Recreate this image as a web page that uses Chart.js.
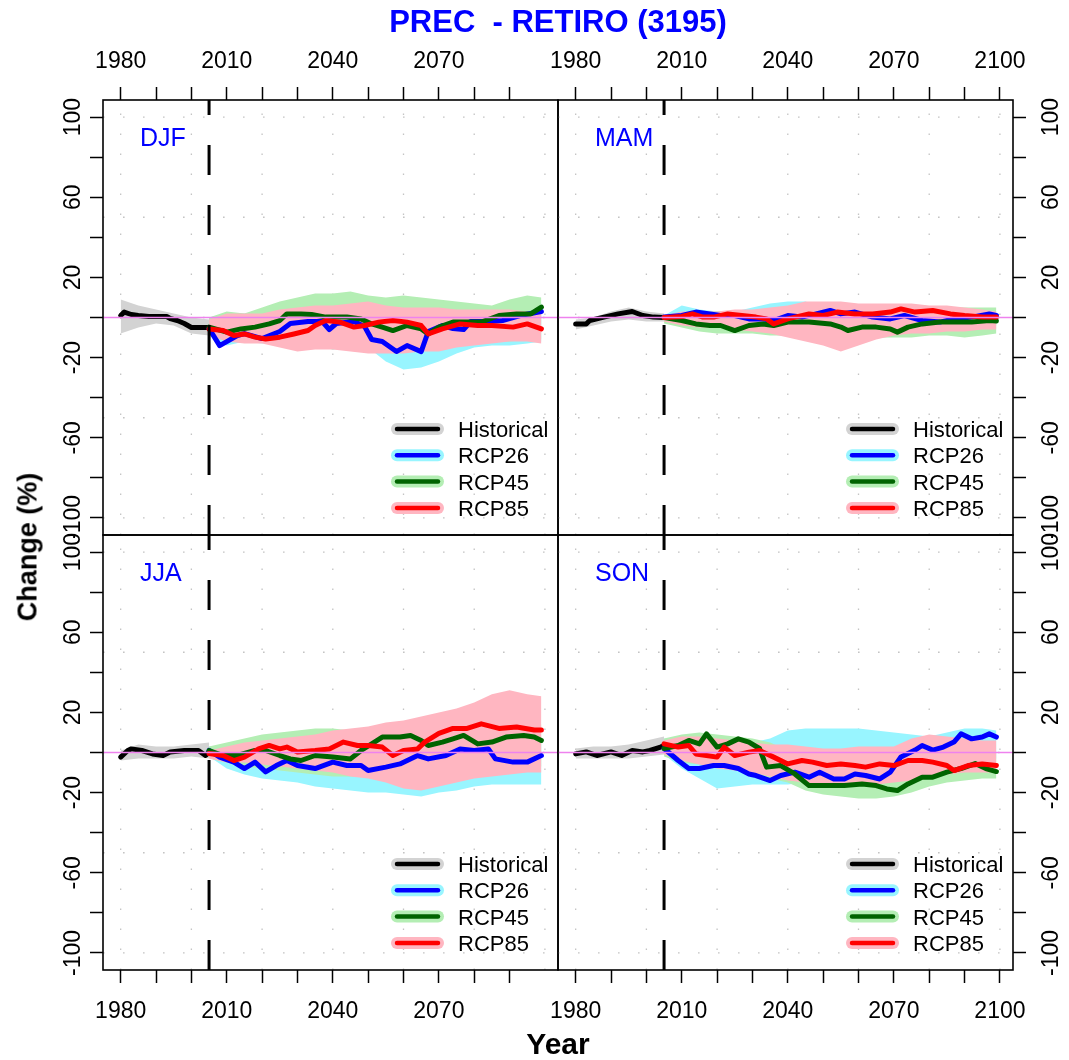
<!DOCTYPE html>
<html>
<head>
<meta charset="utf-8">
<script src="https://cdn.jsdelivr.net/npm/chart.js@4.4.1/dist/chart.umd.min.js"></script>
<style>
html,body{margin:0;padding:0;background:#fff;}
#wrap{position:relative;width:1069px;height:1060px;overflow:hidden;background:#fff;font-family:"Liberation Sans",Arial,Helvetica,sans-serif;}
#wrap canvas{position:absolute;}
.txt{position:absolute;white-space:pre;line-height:1;}
</style>
</head>
<body>
<div id="wrap">
  <canvas id="cTL" width="561" height="538" style="left:0px;top:0px;"></canvas>
  <canvas id="cTR" width="544" height="538" style="left:525px;top:0px;"></canvas>
  <canvas id="cBL" width="561" height="528" style="left:0px;top:532px;"></canvas>
  <canvas id="cBR" width="544" height="528" style="left:525px;top:532px;"></canvas>
  <div class="txt" style="left:258px;width:600px;text-align:center;top:5.5px;font-size:31px;font-weight:bold;color:#0000FF;">PREC  - RETIRO (3195)</div>
  <div class="txt" style="left:458px;width:200px;text-align:center;top:1029px;font-size:30px;font-weight:bold;color:#000;">Year</div>
  <div class="txt" style="left:28px;top:547px;font-size:27px;font-weight:bold;color:#000;transform:translate(-50%,-50%) rotate(-90deg);">Change (%)</div>
</div>
<script>
// ---------------- axis / tick values ----------------
const X_MIN = 1975.0, X_MAX = 2103.7;
const Y_MIN = -108.5, Y_MAX = 108.5;
const xTicksLeft  = [1980,1990,2000,2010,2020,2030,2040,2050,2060,2070,2080,2090];
const xTicksRight = [1980,1990,2000,2010,2020,2030,2040,2050,2060,2070,2080,2090,2100];
const xLabelYears = [1980,2010,2040,2070,2100];
const yTicks      = [-100,-80,-60,-40,-20,0,20,40,60,80,100];
const yLabelVals  = [100,60,20,-20,-60,-100];
const gridYears   = [1980,2000,2020,2040,2060,2080,2100];
const gridVals    = [-100,-50,0,50,100];
const refYear     = 2005;
const zeroValue   = 0;

// ---------------- legend ----------------
const legendLabels = ['Historical','RCP26','RCP45','RCP85'];
const lineColors   = ['#000000','#0000FF','#006400','#FF0000'];
const bandColors   = ['#D3D3D3','#98F5FF','#B4EEB4','#FFB6C1'];

// ---------------- band year grids ----------------
const histBandYears = [1980,1985,1990,1995,2000,2005];
const bandYears = [2005,2010,2015,2020,2025,2030,2035,2040,2045,2050,2055,2060,2065,2070,2075,2080,2085,2090,2095,2099];

// ================= DJF =================
const djfHistYears = [1980,1981,1983,1985,1988,1991,1993,1994,1996,1998,2000,2002,2005];
const djfHist      = [1,2.7,1.5,1,0.5,0.5,0.5,-0.5,-1.5,-3,-5,-5,-5];
const djfHistLo    = [-8,-5,-3,-4,-8,-9];
const djfHistHi    = [9,6,4,2,0,-1];
const djfR26Years  = [2005,2008,2010,2013,2015,2020,2025,2028,2033,2037,2039,2041,2046,2049,2051,2054,2058,2061,2065,2067,2071,2074,2077,2079,2084,2088,2093,2099];
const djfR26       = [-5.5,-14,-12,-9,-8,-10.5,-7,-3,-2,-2,-6,-3,-2,-4.5,-11,-12,-17,-14,-17,-7,-4,-5.5,-6,-2,-2,-1.5,1,3];
const djfR45Years  = [2005,2010,2014,2018,2022,2025,2027,2031,2034,2038,2044,2048,2051,2054,2057,2061,2065,2067,2070,2074,2078,2082,2087,2092,2096,2099];
const djfR45       = [-4.8,-7.3,-5.7,-4.8,-3.2,-1.5,1.8,1.8,1.5,0.2,0.2,-0.7,-3.2,-4.8,-6.5,-4,-5.7,-8.2,-4.8,-2.3,-2.3,-2.3,1,1.8,1.8,5.2];
const djfR85Years  = [2005,2009,2012,2015,2018,2021,2025,2029,2033,2035,2038,2042,2046,2049,2053,2057,2061,2065,2067,2071,2076,2081,2085,2091,2095,2099];
const djfR85       = [-5.7,-6.5,-9,-8.2,-9.8,-10.7,-9.8,-8.2,-6.5,-4,-1.5,-2.3,-4.8,-4,-2.3,-1.5,-2.3,-4,-8.2,-5.7,-3.2,-4,-4,-4.8,-3.2,-5.7];
const djfR26Lo = [-9,-14,-12,-13,-12,-12,-13,-16,-15,-15,-22,-26,-25,-22,-18,-15,-14,-14,-13,-12];
const djfR26Hi = [0,2,2,2,4,5,5,4,4,4,3,2,2,2,3,3,4,5,6,7];
const djfR45Lo = [-9,-12,-11,-10,-10,-10,-14,-16,-14,-14,-16,-12,-12,-12,-12,-12,-12,-12,-11,-11];
const djfR45Hi = [0,3,2,5,8,10,12,12,13,11,10,11,10,9,8,7,6,9,11,10];
const djfR85Lo = [-9,-12,-13,-13,-15,-17,-16,-16,-17,-18,-18,-18,-17,-17,-15,-14,-13,-12,-12,-13];
const djfR85Hi = [-1,2,2,2,4,5,6,6,7,8,6,5,5,5,4,4,4,4,3,2];

// ================= MAM =================
const mamHistYears = [1980,1983,1984,1988,1992,1996,1999,2002,2005];
const mamHist      = [-3.2,-3.2,-1.5,0.2,1.8,3,1,0.2,0];
const mamHistLo    = [-6,-4,-2,-1,-2,-2];
const mamHistHi    = [-1,0,3,5,3,2];
const mamR26Years  = [2005,2010,2014,2018,2021,2025,2029,2033,2036,2040,2044,2048,2052,2055,2059,2064,2069,2073,2078,2083,2087,2092,2097,2099];
const mamR26       = [0.2,1,2.7,1.8,1,1,-0.7,-0.7,-1.5,1,0.2,1.8,3.5,1.8,2.7,0.2,-0.7,1,-1.5,-2.3,-0.7,0.2,1.8,1];
const mamR45Years  = [2005,2010,2014,2018,2021,2025,2029,2033,2036,2040,2046,2052,2055,2057,2061,2065,2069,2071,2074,2078,2083,2087,2092,2097,2099];
const mamR45       = [0,-1.5,-3.2,-4,-4,-6.5,-4,-3.2,-4,-2.3,-2.3,-3.2,-4.8,-6.5,-4.8,-4.8,-5.7,-7.3,-4.8,-3.2,-2.3,-2.3,-2.3,-1.5,-1.8];
const mamR85Years  = [2005,2010,2013,2016,2019,2023,2027,2031,2034,2036,2040,2046,2050,2054,2059,2064,2069,2072,2076,2081,2086,2090,2095,2099];
const mamR85       = [0,0.5,1.8,0.2,0.2,1.8,1,0.2,-0.7,-3.2,-0.7,1.8,1,2.7,1.8,1.8,2.7,4.3,2.7,3.5,1.8,1,0.2,0.2];
const mamR26Lo = [-2,-4,-4,-5,-5,-6,-6,-6,-6,-5,-5,-6,-6,-6,-5,-5,-5,-5,-4,-4];
const mamR26Hi = [1,6,4,3,3,5,7,8,8,5,5,5,5,5,5,5,4,4,4,3];
const mamR45Lo = [-3,-5,-7,-8,-8,-8,-9,-9,-10,-9,-9,-10,-10,-10,-10,-9,-9,-10,-9,-8];
const mamR45Hi = [1,2,3,3,3,3,4,4,4,4,4,4,3,3,4,5,5,5,5,5];
const mamR85Lo = [-2,-4,-5,-5,-6,-7,-8,-10,-12,-14,-17,-14,-11,-9,-8,-8,-7,-7,-6,-6];
const mamR85Hi = [1,3,3,3,4,4,5,6,8,8,8,7,7,7,7,6,6,5,4,3];

// ================= JJA =================
const jjaHistYears = [1980,1982,1983,1986,1989,1992,1994,1998,2002,2004,2005];
const jjaHist      = [-2.3,1,1.8,1,-0.7,-1.5,0.2,1,1,-1.5,0.2];
const jjaHistLo    = [-4,-3,-3,-3,-2,-3];
const jjaHistHi    = [1,4,3,3,4,5];
const jjaR26Years  = [2005,2008,2012,2015,2018,2021,2024,2027,2030,2035,2040,2044,2048,2050,2055,2059,2064,2067,2072,2076,2080,2084,2086,2091,2095,2099];
const jjaR26       = [1,-2.3,-4.8,-8,-4.8,-9.7,-6.5,-4,-6.5,-8,-4.8,-6.5,-6.5,-9,-7.3,-5.7,-1.5,-3.2,-1.5,1.8,1,1.8,-3.2,-4.8,-4.8,-1.5];
const jjaR45Years  = [2005,2009,2013,2018,2021,2025,2028,2031,2035,2040,2045,2048,2051,2054,2059,2062,2065,2067,2071,2074,2077,2081,2085,2089,2094,2097,2099];
const jjaR45       = [1,-1.5,-1.5,1,1,-1.5,-3.2,-4,-1.5,-2.3,-3.2,1,4.3,7.7,7.7,8.5,6,3.5,5.2,6.8,8.5,4.3,5.2,7.7,8.5,7.7,6];
const jjaR85Years  = [2005,2009,2012,2015,2019,2022,2025,2027,2030,2035,2039,2043,2047,2050,2054,2057,2060,2064,2066,2070,2074,2078,2082,2087,2092,2097,2099];
const jjaR85       = [-0.5,-1.5,-4,-2.3,1.8,3.5,1.8,2.7,0.2,1,1.8,5.2,3.5,3.5,2.7,-1.5,1,1.8,5.2,9.5,12,12,14.3,12,12.7,11.2,11.2];
const jjaR26Lo = [-2,-8,-11,-13,-14,-15,-17,-18,-19,-20,-20,-21,-22,-20,-19,-17,-16,-16,-16,-16];
const jjaR26Hi = [3,3,3,2,2,3,3,3,2,2,3,3,3,4,4,5,5,5,4,5];
const jjaR45Lo = [-3,-5,-7,-8,-9,-10,-11,-12,-12,-12,-11,-10,-9,-8,-8,-8,-8,-8,-8,-7];
const jjaR45Hi = [3,5,7,9,10,11,12,12,11,12,13,14,14,14,14,13,13,15,15,14];
const jjaR85Lo = [-3,-5,-5,-6,-7,-8,-9,-10,-12,-13,-15,-18,-19,-17,-15,-13,-12,-11,-10,-10];
const jjaR85Hi = [1,3,5,6,7,8,9,11,12,13,15,16,18,20,22,25,29,31,29,28];

// ================= SON =================
const sonHistYears = [1980,1983,1986,1990,1993,1996,1999,2001,2004,2005];
const sonHist      = [-0.7,0.3,-1.5,0.3,-1.5,1,0.3,1,2.7,3.5];
const sonHistLo    = [-3,-3,-3,-3,-2,-1];
const sonHistHi    = [2,3,3,4,6,8];
const sonR26Years  = [2005,2009,2012,2015,2019,2022,2026,2029,2031,2035,2038,2042,2046,2049,2053,2056,2059,2062,2066,2069,2072,2076,2078,2081,2084,2087,2089,2092,2095,2097,2099];
const sonR26       = [2,-4,-8,-8,-6.5,-6.5,-8,-10.7,-11.5,-14,-11.5,-9.8,-12.3,-9.8,-13.2,-13.2,-10.7,-11.5,-13.2,-9.8,-2.2,1.2,3.5,1.2,2.7,5.2,9.3,6.8,7.7,9.3,7.7];
const sonR45Years  = [2005,2009,2012,2015,2017,2020,2023,2026,2029,2032,2034,2038,2042,2046,2051,2056,2061,2065,2068,2071,2074,2078,2081,2085,2089,2093,2096,2099];
const sonR45       = [2,3.5,6,4.3,9.3,2.7,4.3,6.8,5.2,2,-7.3,-6.5,-10.7,-16.5,-16.5,-16.5,-15.7,-16.5,-18.2,-19,-15.7,-12.3,-12.3,-9.8,-8,-5.5,-8,-9.5];
const sonR85Years  = [2005,2009,2012,2014,2017,2020,2022,2025,2029,2032,2036,2040,2044,2047,2051,2055,2059,2062,2066,2070,2074,2078,2081,2085,2087,2091,2095,2099];
const sonR85       = [4.3,2.7,3.5,-0.7,-1.5,-2.3,2.7,-1.5,0.2,1,-2.3,-5.7,-4,-4.8,-6.5,-5.7,-6.5,-7.3,-5.7,-6.5,-4,-4,-4.8,-6.5,-9,-6.5,-5.7,-6.5];
const sonR26Lo = [-1,-8,-13,-18,-17,-16,-16,-16,-15,-14,-13,-13,-12,-10,-8,-6,-5,-4,-3,-3];
const sonR26Hi = [7,6,5,4,4,5,7,11,12,12,12,12,11,10,9,8,10,12,12,11];
const sonR45Lo = [-2,-5,-6,-7,-8,-10,-13,-15,-19,-21,-22,-23,-23,-22,-20,-17,-15,-14,-13,-13];
const sonR45Hi = [7,9,10,9,8,7,5,1,-2,-3,-3,-3,-3,-3,-2,-1,1,2,1,0];
const sonR85Lo = [-1,-4,-6,-8,-9,-10,-12,-14,-15,-16,-16,-16,-16,-15,-14,-13,-11,-10,-10,-10];
const sonR85Hi = [6,8,8,7,6,5,4,4,3,2,2,3,3,3,7,9,8,7,6,6];

// ---------------- helpers ----------------
const FONT = '"Liberation Sans", Arial, Helvetica, sans-serif';
const pts = (xs, ys) => xs.map((x, i) => ({x: x, y: ys[i]}));

function lineDS(label, xs, ys, color, width) {
  return {label: label, data: pts(xs, ys), borderColor: color, borderWidth: width,
    pointRadius: 0, fill: false, tension: 0, borderJoinStyle: 'round', borderCapStyle: 'round'};
}
function bandPair(label, xs, lo, hi, color) {
  return [
    {label: label + ' lo', data: pts(xs, lo), borderWidth: 0, borderColor: 'rgba(0,0,0,0)', pointRadius: 0, fill: false, tension: 0},
    {label: label + ' hi', data: pts(xs, hi), borderWidth: 0, borderColor: 'rgba(0,0,0,0)', pointRadius: 0, fill: '-1', backgroundColor: color, tension: 0}
  ];
}

function buildDatasets(s) {
  const ds = [];
  ds.push({label: 'zero', data: [{x: X_MIN, y: zeroValue}, {x: X_MAX, y: zeroValue}], borderColor: '#EE82EE', borderWidth: 1.6, pointRadius: 0, fill: false});
  ds.push({label: 'ref', data: [{x: refYear, y: Y_MAX}, {x: refYear, y: Y_MIN}], borderColor: '#000', borderWidth: 3, borderDash: [30, 30], borderDashOffset: 15, pointRadius: 0, fill: false, borderCapStyle: 'butt'});
  ds.push(lineDS(legendLabels[3], s.r85Years, s.r85, lineColors[3], 5));
  ds.push(lineDS(legendLabels[2], s.r45Years, s.r45, lineColors[2], 5));
  ds.push(lineDS(legendLabels[1], s.r26Years, s.r26, lineColors[1], 5));
  ds.push(lineDS(legendLabels[0], s.histYears, s.hist, lineColors[0], 5));
  ds.push(...bandPair('RCP85', bandYears, s.r85Lo, s.r85Hi, bandColors[3]));
  ds.push(...bandPair('RCP45', bandYears, s.r45Lo, s.r45Hi, bandColors[2]));
  ds.push(...bandPair('RCP26', bandYears, s.r26Lo, s.r26Hi, bandColors[1]));
  ds.push(...bandPair('Historical', histBandYears, s.histLo, s.histHi, bandColors[0]));
  return ds;
}

function panelPlugin(cfg) {
  return {
    id: 'panel' + cfg.id,
    beforeDatasetsDraw(chart) {
      const ctx = chart.ctx, a = chart.chartArea, xs = chart.scales.x, ys = chart.scales.y;
      ctx.save();
      ctx.beginPath(); ctx.rect(a.left, a.top, a.right - a.left, a.bottom - a.top); ctx.clip();
      ctx.strokeStyle = '#C4C4C4'; ctx.lineWidth = 1.3; ctx.setLineDash([1.6, 18.4]);
      gridYears.forEach(v => {
        const px = xs.getPixelForValue(v);
        ctx.beginPath(); ctx.moveTo(px, a.bottom); ctx.lineTo(px, a.top); ctx.stroke();
      });
      gridVals.forEach(v => {
        const py = ys.getPixelForValue(v);
        ctx.beginPath(); ctx.moveTo(a.left, py); ctx.lineTo(a.right, py); ctx.stroke();
      });
      ctx.restore();
    },
    afterDatasetsDraw(chart) {
      const ctx = chart.ctx, a = chart.chartArea;
      ctx.save();
      ctx.strokeStyle = '#000'; ctx.lineWidth = 1.6; ctx.setLineDash([]);
      ctx.strokeRect(a.left, a.top, a.right - a.left, a.bottom - a.top);
      ctx.fillStyle = '#0000FF'; ctx.font = '25px ' + FONT; ctx.textAlign = 'left'; ctx.textBaseline = 'alphabetic';
      ctx.fillText(cfg.season, a.left + 37, a.top + 46);
      const rows = [-106, -79.7, -53.4, -27];
      ctx.lineCap = 'round';
      rows.forEach((r, i) => {
        const y = a.bottom + r;
        ctx.strokeStyle = bandColors[i]; ctx.lineWidth = 12;
        ctx.beginPath(); ctx.moveTo(a.right - 161, y); ctx.lineTo(a.right - 120, y); ctx.stroke();
        ctx.strokeStyle = lineColors[i]; ctx.lineWidth = 4.5;
        ctx.beginPath(); ctx.moveTo(a.right - 161, y); ctx.lineTo(a.right - 120, y); ctx.stroke();
        ctx.fillStyle = '#000'; ctx.font = '22px ' + FONT; ctx.textAlign = 'left';
        ctx.fillText(legendLabels[i], a.right - 100, y + 7.9);
      });
      ctx.restore();
    },
    afterDraw(chart) {
      const ctx = chart.ctx, xs = chart.scales.x, ys = chart.scales.y;
      ctx.save();
      ctx.fillStyle = '#000'; ctx.font = '23px ' + FONT;
      ctx.textAlign = 'center'; ctx.textBaseline = 'alphabetic';
      const by = (cfg.xPos === 'top' ? 68.3 : 1018.3) - cfg.top;
      xs.ticks.forEach(t => {
        if (xLabelYears.indexOf(t.value) >= 0) ctx.fillText(String(t.value), xs.getPixelForValue(t.value), by);
      });
      const bx = (cfg.yPos === 'left' ? 79.5 : 1058) - cfg.left;
      ys.ticks.forEach(t => {
        if (yLabelVals.indexOf(t.value) >= 0) {
          ctx.save();
          ctx.translate(bx, ys.getPixelForValue(t.value));
          ctx.rotate(-Math.PI / 2);
          ctx.textAlign = 'center';
          ctx.fillText(String(t.value), 0, 0);
          ctx.restore();
        }
      });
      ctx.restore();
    }
  };
}

function makePanel(cfg, series) {
  const canvas = document.getElementById(cfg.id);
  return new Chart(canvas, {
    type: 'line',
    data: {datasets: buildDatasets(series)},
    options: {
      responsive: false, animation: false, devicePixelRatio: 1,
      layout: {padding: cfg.pad},
      plugins: {legend: {display: false}, tooltip: {enabled: false}, title: {display: false}},
      events: [],
      scales: {
        x: {
          type: 'linear', position: cfg.xPos, min: X_MIN, max: X_MAX,
          afterBuildTicks: s => { s.ticks = cfg.xTicks.map(v => ({value: v})); },
          ticks: {display: false},
          grid: {drawOnChartArea: false, drawTicks: true, tickLength: 13, tickColor: '#000', tickWidth: 1.5},
          border: {display: false},
          afterFit: s => { s.height = cfg.xAxisH; s.paddingLeft = 0; s.paddingRight = 0; }
        },
        y: {
          type: 'linear', position: cfg.yPos, min: Y_MIN, max: Y_MAX,
          afterBuildTicks: s => { s.ticks = yTicks.map(v => ({value: v})); },
          ticks: {display: false},
          grid: {drawOnChartArea: false, drawTicks: true, tickLength: 13, tickColor: '#000', tickWidth: 1.5},
          border: {display: false},
          afterFit: s => { s.width = cfg.yAxisW; s.paddingTop = 0; s.paddingBottom = 0; }
        }
      }
    },
    plugins: [panelPlugin(cfg)]
  });
}

makePanel({id: 'cTL', season: 'DJF', left: 0, top: 0, pad: {left: 0, top: 0, right: 3, bottom: 3}, xPos: 'top', yPos: 'left', xAxisH: 100, yAxisW: 103, xTicks: xTicksLeft},
  {histYears: djfHistYears, hist: djfHist, histLo: djfHistLo, histHi: djfHistHi,
   r26Years: djfR26Years, r26: djfR26, r45Years: djfR45Years, r45: djfR45, r85Years: djfR85Years, r85: djfR85,
   r26Lo: djfR26Lo, r26Hi: djfR26Hi, r45Lo: djfR45Lo, r45Hi: djfR45Hi, r85Lo: djfR85Lo, r85Hi: djfR85Hi});
makePanel({id: 'cTR', season: 'MAM', left: 525, top: 0, pad: {left: 33, top: 0, right: 0, bottom: 3}, xPos: 'top', yPos: 'right', xAxisH: 100, yAxisW: 56, xTicks: xTicksRight},
  {histYears: mamHistYears, hist: mamHist, histLo: mamHistLo, histHi: mamHistHi,
   r26Years: mamR26Years, r26: mamR26, r45Years: mamR45Years, r45: mamR45, r85Years: mamR85Years, r85: mamR85,
   r26Lo: mamR26Lo, r26Hi: mamR26Hi, r45Lo: mamR45Lo, r45Hi: mamR45Hi, r85Lo: mamR85Lo, r85Hi: mamR85Hi});
makePanel({id: 'cBL', season: 'JJA', left: 0, top: 532, pad: {left: 0, top: 3, right: 3, bottom: 0}, xPos: 'bottom', yPos: 'left', xAxisH: 90, yAxisW: 103, xTicks: xTicksLeft},
  {histYears: jjaHistYears, hist: jjaHist, histLo: jjaHistLo, histHi: jjaHistHi,
   r26Years: jjaR26Years, r26: jjaR26, r45Years: jjaR45Years, r45: jjaR45, r85Years: jjaR85Years, r85: jjaR85,
   r26Lo: jjaR26Lo, r26Hi: jjaR26Hi, r45Lo: jjaR45Lo, r45Hi: jjaR45Hi, r85Lo: jjaR85Lo, r85Hi: jjaR85Hi});
makePanel({id: 'cBR', season: 'SON', left: 525, top: 532, pad: {left: 33, top: 3, right: 0, bottom: 0}, xPos: 'bottom', yPos: 'right', xAxisH: 90, yAxisW: 56, xTicks: xTicksRight},
  {histYears: sonHistYears, hist: sonHist, histLo: sonHistLo, histHi: sonHistHi,
   r26Years: sonR26Years, r26: sonR26, r45Years: sonR45Years, r45: sonR45, r85Years: sonR85Years, r85: sonR85,
   r26Lo: sonR26Lo, r26Hi: sonR26Hi, r45Lo: sonR45Lo, r45Hi: sonR45Hi, r85Lo: sonR85Lo, r85Hi: sonR85Hi});
</script>
</body>
</html>
